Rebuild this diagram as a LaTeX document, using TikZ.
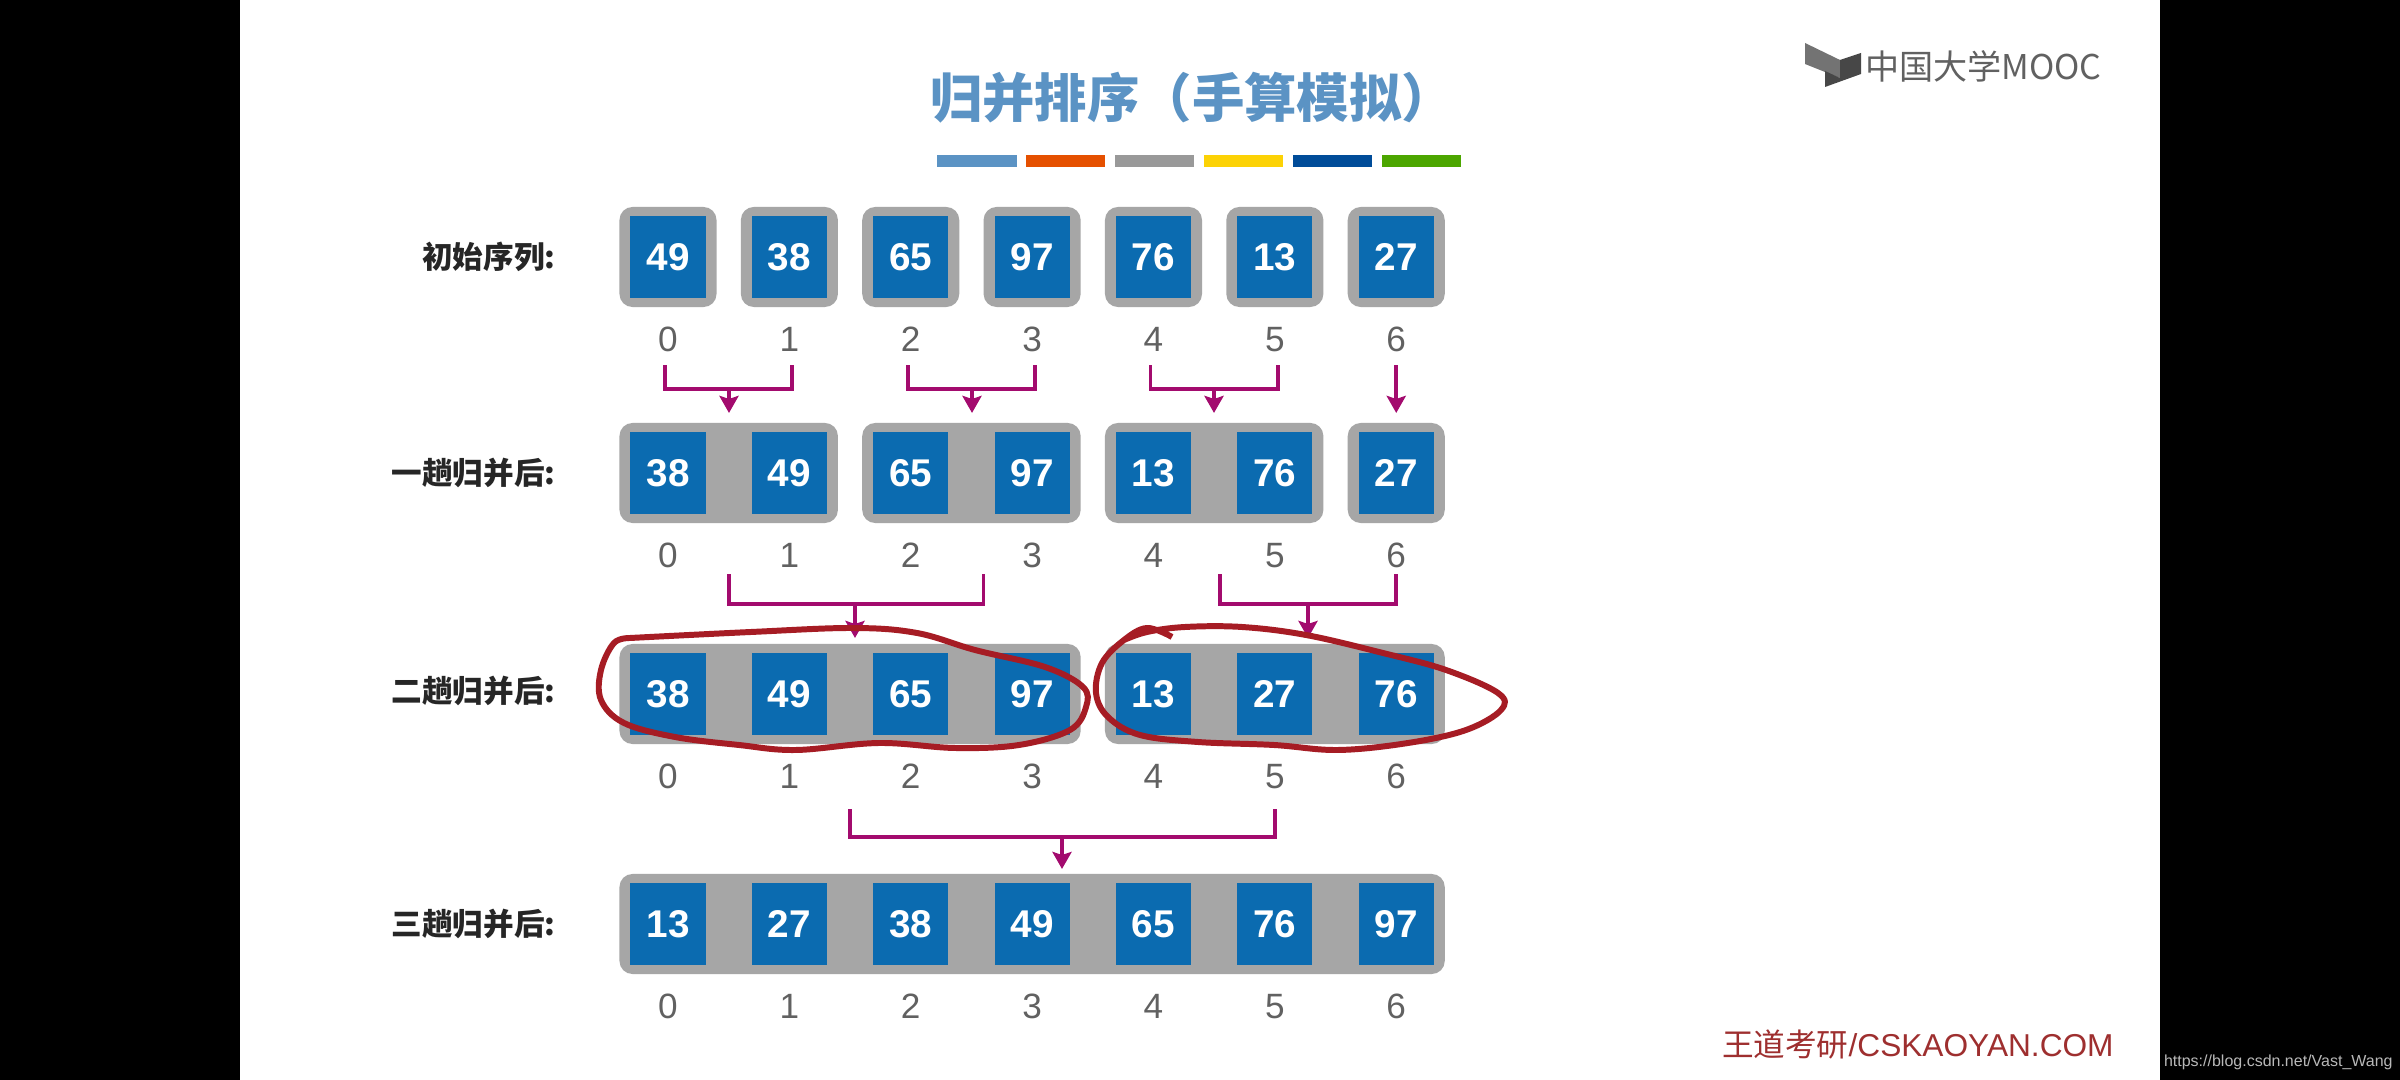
\documentclass[tikz,border=0pt]{standalone}
\usepackage{fontspec}
\setmainfont{Liberation Sans}
\newfontfamily\cjk{Noto Sans CJK SC}
\usetikzlibrary{positioning,arrows.meta,fit,backgrounds}
\definecolor{cellblue}{HTML}{0B6BB0}
\definecolor{backgray}{HTML}{A6A6A6}
\definecolor{linkpurple}{HTML}{A30B6E}
\definecolor{penred}{HTML}{A61C24}
\definecolor{titleblue}{HTML}{5B93C4}
\definecolor{sitered}{HTML}{9E2F2F}

\begin{document}
\begin{tikzpicture}[
  x=0.01cm, y=-0.01cm,
  outer sep=0pt,
  node distance=2.85mm and 4.63mm,
  cell/.style={fill=cellblue, text=white, minimum width=7.5mm, minimum height=8.2mm, inner sep=0pt, font=\fontsize{11pt}{11pt}\selectfont\bfseries},
  idx/.style={inner sep=0pt, text height=2.5mm, text depth=0pt, text=black!62, font=\fontsize{10pt}{10pt}\selectfont},
  back/.style={fill=backgray, rounded corners=1.3mm, inner xsep=1.1mm, inner ysep=0.9mm},
  rowlab/.style={font=\cjk\bfseries\fontsize{8.7pt}{8.7pt}\selectfont, text=black!85, inner sep=0pt},
  link/.style={draw=linkpurple, line width=1.1pt},
  arr/.style={link, -{Stealth[length=1.7mm, width=1.9mm, inset=0.3mm]}},
  bar/.style={minimum width=7.9mm, minimum height=1.2mm, inner sep=0pt},
  pen/.style={draw=penred, line width=1.7pt, line join=round}
]
\useasboundingbox (0,0) rectangle (2400,1080);
\begin{scope}[on background layer]
  \fill[black] (0,0) rectangle (2400,1080);
  \fill[white] (240,0) rectangle (2160,1080);
\end{scope}

% title and marks
\node[font=\cjk\bfseries\fontsize{14.9pt}{14.9pt}\selectfont, text=titleblue, inner sep=0pt] (title) at (1192,98) {归并排序（手算模拟）};
\node[bar, fill=titleblue] (bar1) at (977,161) {};
\node[bar, fill=orange!70!red!90!black, right=0.98mm of bar1] (bar2) {};
\node[bar, fill=black!40, right=0.98mm of bar2] (bar3) {};
\node[bar, fill=yellow!70!orange, right=0.98mm of bar3] (bar4) {};
\node[bar, fill=blue!50!cyan!60!black, right=0.98mm of bar4] (bar5) {};
\node[bar, fill=green!50!black!70!yellow, right=0.98mm of bar5] (bar6) {};
\fill[black!55] (1805,43) -- (1840,60) -- (1840,78) -- (1805,64) -- cycle;
\fill[black!72] (1840,60) -- (1861,53) -- (1861,74) -- (1825,87) -- (1825,71) -- (1840,78) -- cycle;
\node[font=\cjk\fontsize{9.7pt}{9.7pt}\selectfont, text=black!62, inner sep=0pt, anchor=west] (logo) at (1865,66) {中国大学MOOC};
\node[font=\fontsize{9pt}{9pt}\selectfont, text=sitered, inner sep=0pt, anchor=west] (site) at (1722,1044) {{\cjk 王道考研}/CSKAOYAN.COM};
\node[font=\fontsize{4.55pt}{4.55pt}\selectfont, text=black!28, inner sep=0pt, anchor=west] (blog) at (2164,1062) {https://blog.csdn.net/Vast\_Wang};

% row a
\node[cell] (a0) at (668,257) {49};
\node[cell, right=of a0] (a1) {38};
\node[cell, right=of a1] (a2) {65};
\node[cell, right=of a2] (a3) {97};
\node[cell, right=of a3] (a4) {76};
\node[cell, right=of a4] (a5) {13};
\node[cell, right=of a5] (a6) {27};
\node[idx, below=of a0] (ia0) {0};
\node[idx, below=of a1] (ia1) {1};
\node[idx, below=of a2] (ia2) {2};
\node[idx, below=of a3] (ia3) {3};
\node[idx, below=of a4] (ia4) {4};
\node[idx, below=of a5] (ia5) {5};
\node[idx, below=of a6] (ia6) {6};
\node[rowlab, left=7.5mm of a0] (laba) {初始序列:};

% row b
\node[cell] (b0) at (668,473) {38};
\node[cell, right=of b0] (b1) {49};
\node[cell, right=of b1] (b2) {65};
\node[cell, right=of b2] (b3) {97};
\node[cell, right=of b3] (b4) {13};
\node[cell, right=of b4] (b5) {76};
\node[cell, right=of b5] (b6) {27};
\node[idx, below=of b0] (ib0) {0};
\node[idx, below=of b1] (ib1) {1};
\node[idx, below=of b2] (ib2) {2};
\node[idx, below=of b3] (ib3) {3};
\node[idx, below=of b4] (ib4) {4};
\node[idx, below=of b5] (ib5) {5};
\node[idx, below=of b6] (ib6) {6};
\node[rowlab, left=7.5mm of b0] (labb) {一趟归并后:};

% row c
\node[cell] (c0) at (668,694) {38};
\node[cell, right=of c0] (c1) {49};
\node[cell, right=of c1] (c2) {65};
\node[cell, right=of c2] (c3) {97};
\node[cell, right=of c3] (c4) {13};
\node[cell, right=of c4] (c5) {27};
\node[cell, right=of c5] (c6) {76};
\node[idx, below=of c0] (ic0) {0};
\node[idx, below=of c1] (ic1) {1};
\node[idx, below=of c2] (ic2) {2};
\node[idx, below=of c3] (ic3) {3};
\node[idx, below=of c4] (ic4) {4};
\node[idx, below=of c5] (ic5) {5};
\node[idx, below=of c6] (ic6) {6};
\node[rowlab, left=7.5mm of c0, yshift=0.3mm] (labc) {二趟归并后:};

% row d
\node[cell] (d0) at (668,924) {13};
\node[cell, right=of d0] (d1) {27};
\node[cell, right=of d1] (d2) {38};
\node[cell, right=of d2] (d3) {49};
\node[cell, right=of d3] (d4) {65};
\node[cell, right=of d4] (d5) {76};
\node[cell, right=of d5] (d6) {97};
\node[idx, below=of d0] (id0) {0};
\node[idx, below=of d1] (id1) {1};
\node[idx, below=of d2] (id2) {2};
\node[idx, below=of d3] (id3) {3};
\node[idx, below=of d4] (id4) {4};
\node[idx, below=of d5] (id5) {5};
\node[idx, below=of d6] (id6) {6};
\node[rowlab, left=7.5mm of d0] (labd) {三趟归并后:};

\begin{scope}[on background layer]
  \node[back, fit=(a0)] (ka0) {};
  \node[back, fit=(a1)] (ka1) {};
  \node[back, fit=(a2)] (ka2) {};
  \node[back, fit=(a3)] (ka3) {};
  \node[back, fit=(a4)] (ka4) {};
  \node[back, fit=(a5)] (ka5) {};
  \node[back, fit=(a6)] (ka6) {};
  \node[back, fit=(b0)(b1)] (kb0) {};
  \node[back, fit=(b2)(b3)] (kb1) {};
  \node[back, fit=(b4)(b5)] (kb2) {};
  \node[back, fit=(b6)] (kb3) {};
  \node[back, fit=(c0)(c3)] (kc0) {};
  \node[back, fit=(c4)(c6)] (kc1) {};
  \node[back, fit=(d0)(d6)] (kd0) {};
\end{scope}

% merges
\coordinate (hub1) at (729,389);
\coordinate (hub2) at (972,389);
\coordinate (hub3) at (1214,389);
\coordinate (hub4) at (855,604);
\coordinate (hub5) at (1308,604);
\coordinate (hub6) at (1062,837);
\draw[link, shorten <=5.8mm] ([xshift=-0.3mm]ka0.south) |- (hub1);
\draw[link, shorten <=5.8mm] ([xshift=0.3mm]ka1.south) |- (hub1);
\draw[link, shorten <=5.8mm] ([xshift=-0.3mm]ka2.south) |- (hub2);
\draw[link, shorten <=5.8mm] ([xshift=0.3mm]ka3.south) |- (hub2);
\draw[link, shorten <=5.8mm] ([xshift=-0.3mm]ka4.south) |- (hub3);
\draw[link, shorten <=5.8mm] ([xshift=0.3mm]ka5.south) |- (hub3);
\draw[arr, shorten >=1mm] (hub1) -- (hub1 |- kb0.north);
\draw[arr, shorten >=1mm] (hub2) -- (hub2 |- kb1.north);
\draw[arr, shorten >=1mm] (hub3) -- (hub3 |- kb2.north);
\draw[arr, shorten <=5.8mm, shorten >=1mm] (ka6.south) -- (kb3.north);
\draw[link, shorten <=5.1mm] (kb0.south) |- (hub4);
\draw[link, shorten <=5.1mm] ([xshift=1.2mm]kb1.south) |- (hub4);
\draw[link, shorten <=5.1mm] ([xshift=0.6mm]kb2.south) |- (hub5);
\draw[link, shorten <=5.1mm] (kb3.south) |- (hub5);
\draw[arr, shorten >=0.6mm] (hub4) -- (hub4 |- kc0.north);
\draw[arr, shorten >=0.6mm] (hub5) -- (hub5 |- kc1.north);
\draw[link, shorten <=6.5mm] (kc0.south) |- (hub6);
\draw[link, shorten <=6.5mm] (kc1.south) |- (hub6);
\draw[arr, shorten >=0.5mm] (hub6) -- (hub6 |- kd0.north);

% hand marks
\draw[pen] plot[smooth, tension=0.6] coordinates {(630,638) (751,632) (853,628) (917,633) (975,650) (1045,667) (1083,687) (1086,707) (1070,730) (1019,745) (955,748) (879,743) (796,750) (739,745) (675,737) (624,723) (601,700) (601,670) (614,643) (630,638)};
\draw[pen] plot[smooth, tension=0.6] coordinates {(1172,637) (1147,628) (1124,640) (1102,663) (1096,693) (1108,717) (1140,735) (1198,742) (1274,745) (1338,750) (1408,743) (1466,730) (1501,710) (1498,693) (1446,670) (1383,653) (1306,635) (1242,627) (1185,627) (1147,632) (1124,640)};
\end{tikzpicture}
\end{document}
